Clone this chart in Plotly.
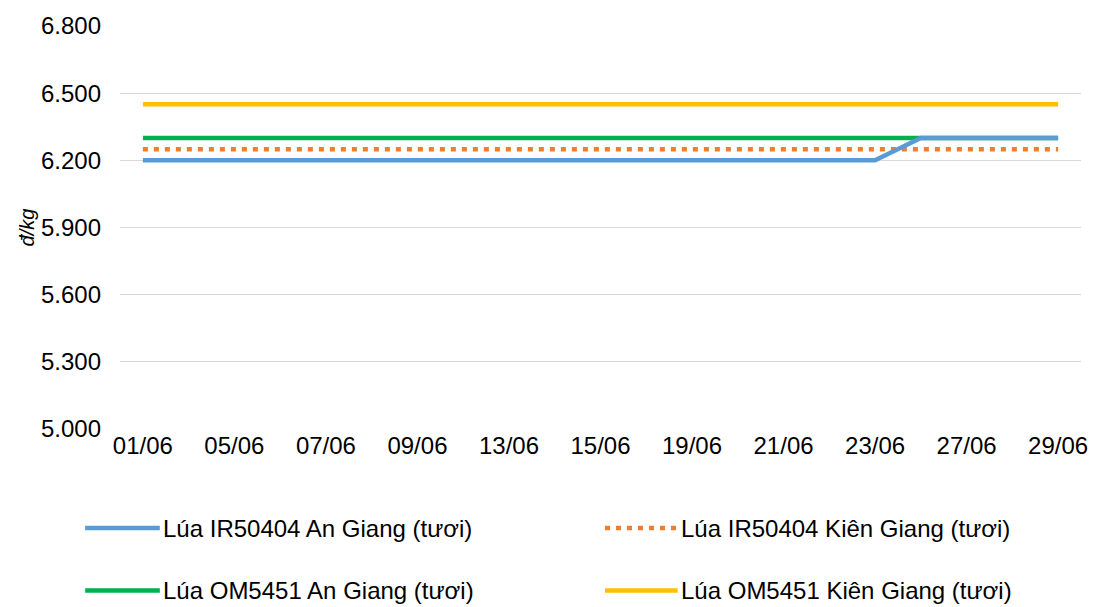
import plotly.graph_objects as go

dates = ["01/06", "02/06", "05/06", "06/06", "07/06", "08/06", "09/06", "12/06", "13/06", "14/06",
         "15/06", "16/06", "19/06", "20/06", "21/06", "22/06", "23/06", "26/06", "27/06", "28/06", "29/06"]
tick_labels = dates[::2]

ir_an_giang = [6200] * 17 + [6300] * 4
ir_kien_giang = [6250] * 21
om_an_giang = [6300] * 21
om_kien_giang = [6450] * 21

series_names = ["Lúa IR50404 An Giang (tươi)", "Lúa IR50404 Kiên Giang (tươi)",
                "Lúa OM5451 An Giang (tươi)", "Lúa OM5451 Kiên Giang (tươi)"]
series_values = [ir_an_giang, ir_kien_giang, om_an_giang, om_kien_giang]
colors = ["#5B9BD5", "#ED7D31", "#00B050", "#FFC000"]
dashes = ["solid", "5px,6px", "solid", "solid"]

W, H = 1100, 607
ML, MR, MT, MB = 120, 15, 22, 178
PW, PH = W - ML - MR, H - MT - MB

def px(x):
    return (x - ML) / PW

def py(y):
    return (H - MB - y) / PH

fig = go.Figure()
for i in [3, 2, 1, 0]:
    fig.add_trace(go.Scatter(x=dates, y=series_values[i], mode="lines", name=series_names[i],
                             line=dict(color=colors[i], width=4.5, dash=dashes[i]),
                             showlegend=False))

font_family = "Liberation Sans, Arial, sans-serif"

legend_pos = [(85, 160, 529), (607, 680, 529), (85, 160, 592), (607, 680, 592)]
for i, (x0, x1, yy) in enumerate(legend_pos):
    fig.add_shape(type="line", xref="paper", yref="paper",
                  x0=px(x0), x1=px(x1), y0=py(yy), y1=py(yy),
                  line=dict(color=colors[i], width=4.5, dash=dashes[i]))
    fig.add_annotation(xref="paper", yref="paper", x=px(x1 + 1), y=py(yy),
                       text=series_names[i], showarrow=False, xanchor="left", yanchor="middle",
                       font=dict(size=24, color="#000000", family=font_family))

fig.update_layout(
    width=W, height=H,
    margin=dict(l=ML, r=MR, t=MT, b=MB),
    paper_bgcolor="white", plot_bgcolor="white",
    separators=",.",
    font=dict(family=font_family, size=24, color="#000000"),
    xaxis=dict(type="category", categoryorder="array", categoryarray=dates,
               range=[-0.5, len(dates) - 0.5],
               tickmode="array", tickvals=tick_labels, ticktext=tick_labels,
               showgrid=False, showline=False, zeroline=False, ticks="",
               tickfont=dict(size=24), ticklabelstandoff=0),
    yaxis=dict(range=[5000, 6800], dtick=300, tick0=5000, tickformat=",d",
               showgrid=True, gridcolor="#D9D9D9", gridwidth=1, zeroline=False,
               showline=False, ticks="", tickfont=dict(size=24), ticklabelstandoff=18,
               title=dict(text="<i>đ/kg</i>", font=dict(size=20), standoff=0)),
)

fig.write_html("out.html", config={"displayModeBar": False},
               post_script="document.body.style.margin='0';document.body.style.padding='0';")
